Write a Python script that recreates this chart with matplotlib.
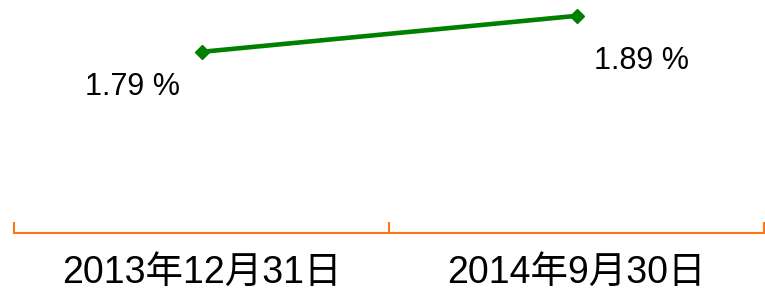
import matplotlib
matplotlib.use("Agg")
import matplotlib.pyplot as plt

# data
categories = ["2013年12月31日", "2014年9月30日"]
values = [1.79, 1.89]
value_labels = ["1.79 %", "1.89 %"]

GREEN = "#008000"
ORANGE = "#FF7417"
PX = 72 / 100  # pixels -> points at dpi 100

plt.rcParams["font.family"] = ["Liberation Sans", "Noto Sans CJK SC", "DejaVu Sans"]

fig = plt.figure(figsize=(7.65, 2.9), dpi=100)
ax = fig.add_axes([14 / 765, 57 / 290, 750 / 765, 233 / 290])

x = list(range(len(categories)))
ax.plot(x, values, color=GREEN, lw=3.3, marker="D", ms=7.5, clip_on=False)

ax.set_xlim(-0.5, len(categories) - 0.5)
ax.set_ylim(1.287, 1.934)

# value labels
offsets = [(-69, -35.5), (65, -45)]
for xi, v, lab, (dx, dy) in zip(x, values, value_labels, offsets):
    ax.annotate(lab, xy=(xi, v), xytext=(dx * PX, dy * PX), textcoords="offset points",
                ha="center", va="center", fontsize=22)

# category labels
for xi, c in zip(x, categories):
    ax.annotate(c, xy=(xi, 0), xycoords=("data", "axes fraction"),
                xytext=(0, -40 * PX), textcoords="offset points",
                ha="center", va="center", fontsize=27)

for s in ["left", "right", "top"]:
    ax.spines[s].set_visible(False)
ax.spines["bottom"].set_color(ORANGE)
ax.spines["bottom"].set_linewidth(1.5)
ax.set_yticks([])
ax.set_xticks([-0.5, 0.5, 1.5])
ax.set_xticklabels([])
ax.tick_params(axis="x", direction="in", length=11 * PX, width=1.5, color=ORANGE)

fig.savefig("out.png", dpi=100)
